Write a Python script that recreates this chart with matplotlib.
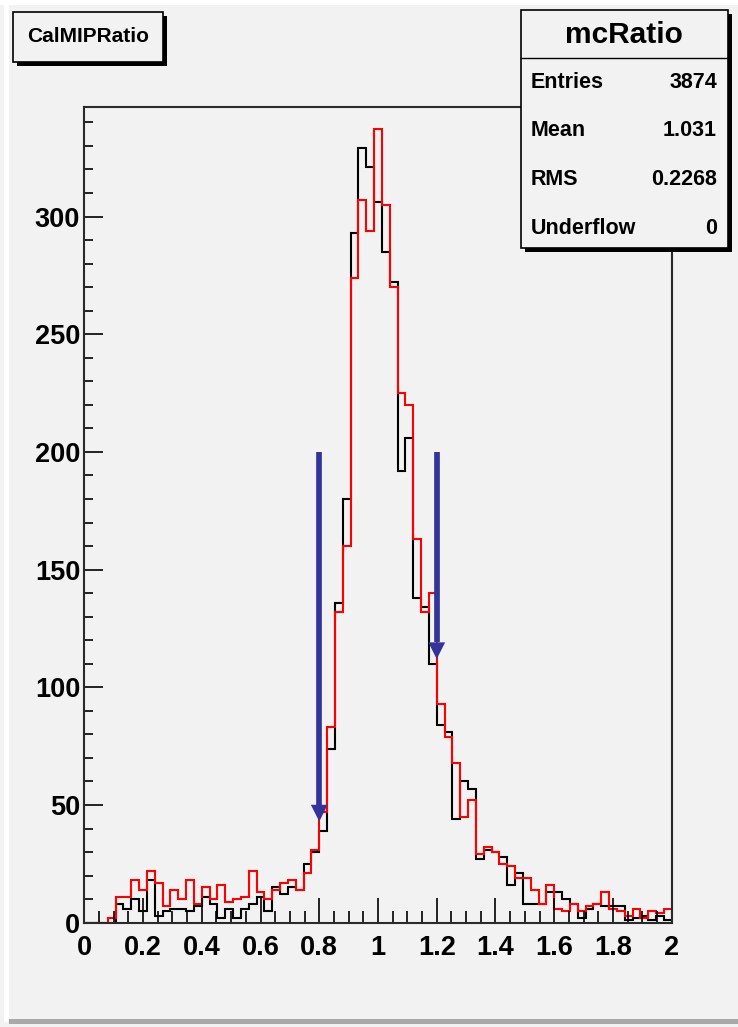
import numpy as np
import matplotlib
matplotlib.use("Agg")
import matplotlib.pyplot as plt
from matplotlib.patches import Rectangle
from matplotlib.ticker import MultipleLocator, FuncFormatter

# ---- histogram binning (75 bins over 0..2) ----
N_BINS = 75
X_MIN, X_MAX = 0.0, 2.0

# mcRatio (black)
mc_ratio = [
    0, 0, 0, 0, 8, 6, 10, 5, 18, 3,
    5, 6, 6, 5, 7, 11, 8, 2, 6, 2,
    6, 8, 11, 5, 15, 12, 15, 14, 25, 30,
    39, 74, 136, 180, 293, 329, 321, 306, 285, 272,
    192, 206, 138, 134, 110, 84, 81, 44, 60, 57,
    27, 31, 30, 28, 16, 21, 8, 8, 8, 13,
    13, 10, 8, 2, 6, 8, 7, 7, 7, 1,
    2, 3, 1, 3, 1,
]

# CalMIPRatio (red)
data_ratio = [
    0, 0, 0, 2, 11, 11, 18, 14, 22, 17,
    7, 14, 10, 18, 8, 15, 10, 16, 9, 10,
    11, 22, 13, 10, 14, 17, 18, 14, 21, 31,
    47, 83, 132, 160, 274, 307, 294, 337, 305, 270,
    225, 220, 163, 132, 140, 93, 79, 68, 45, 52,
    29, 32, 30, 25, 24, 19, 19, 14, 8, 16,
    6, 5, 8, 5, 7, 8, 13, 6, 5, 3,
    6, 2, 5, 4, 6,
]

# cut arrows: x position, start height, tip height
arrow_x = [0.8, 1.2]
arrow_top = [200, 200]
arrow_tip = [43, 112]

stat_labels = ["Entries", "Mean", "RMS", "Underflow"]
stat_values = ["3874", "1.031", "0.2268", "0"]

W, H = 738, 1027
BG = "#f2f2f2"
ARROW_COLOR = "#333399"
FONT = "Liberation Sans"

plt.rcParams["font.family"] = [FONT, "DejaVu Sans"]


def fx(px):
    return px / W


def fy(py):
    return 1 - py / H


fig = plt.figure(figsize=(W / 100, H / 100), dpi=100, facecolor=BG)

# canvas bevel
fig.add_artist(Rectangle((0, fy(5)), 1, fy(0) - fy(5), transform=fig.transFigure,
                         facecolor="white", edgecolor="none"))
fig.add_artist(Rectangle((fx(4), fy(1022)), fx(5), fy(5) - fy(1022),
                         transform=fig.transFigure, facecolor="white", edgecolor="none"))
fig.add_artist(Rectangle((fx(9), fy(1024)), 1, fy(1019) - fy(1024),
                         transform=fig.transFigure, facecolor="#a8a8a8", edgecolor="none"))

ax_l, ax_r, ax_t, ax_b = 84.3, 671.7, 107.3, 922.7
ax = fig.add_axes([fx(ax_l), fy(ax_b), fx(ax_r - ax_l), fy(ax_t) - fy(ax_b)])
ax.set_facecolor(BG)
ax.set_xlim(X_MIN, X_MAX)
ax.set_ylim(0, 346.4)

edges = np.linspace(X_MIN, X_MAX, N_BINS + 1)
ax.stairs(mc_ratio, edges, color="black", lw=1.5, baseline=0)
ax.stairs(data_ratio, edges, color="red", lw=1.5, baseline=0)

# arrow head size in pixels, turned into data units
px_x = (X_MAX - X_MIN) / (ax_r - ax_l)
px_y = 346.4 / (ax_b - ax_t)
head_w, head_h = 8.4 * px_x, 16.7 * px_y
for x, y0, y1 in zip(arrow_x, arrow_top, arrow_tip):
    ax.plot([x, x], [y0, y1 + head_h], color=ARROW_COLOR, lw=4.1, solid_capstyle="butt")
    ax.fill([x - head_w, x + head_w, x], [y1 + head_h, y1 + head_h, y1],
            color=ARROW_COLOR, lw=0)

ax.xaxis.set_major_locator(MultipleLocator(0.2))
ax.xaxis.set_minor_locator(MultipleLocator(0.05))
ax.yaxis.set_major_locator(MultipleLocator(50))
ax.yaxis.set_minor_locator(MultipleLocator(10))
ax.xaxis.set_major_formatter(FuncFormatter(lambda v, _: f"{v:g}"))

ax.tick_params(axis="x", which="major", direction="in", length=18, width=1.2, pad=9,
               labelsize=19.5, top=False)
ax.tick_params(axis="x", which="minor", direction="in", length=9, width=1.2, top=False)
ax.tick_params(axis="y", which="major", direction="in", length=13.5, width=1.2, pad=3,
               labelsize=19.5, right=False)
ax.tick_params(axis="y", which="minor", direction="in", length=6.5, width=1.2, right=False)
for lab in ax.get_xticklabels() + ax.get_yticklabels():
    lab.set_fontweight("bold")

for s in ax.spines.values():
    s.set_color("#2a2a2a")
    s.set_linewidth(1.5)


def box(x0, y0, x1, y1, shadow=4):
    fig.add_artist(Rectangle((fx(x0 + shadow), fy(y1 + shadow)), fx(x1 - x0), fy(y0) - fy(y1),
                             transform=fig.transFigure, facecolor="black", edgecolor="none"))
    fig.add_artist(Rectangle((fx(x0), fy(y1)), fx(x1 - x0), fy(y0) - fy(y1),
                             transform=fig.transFigure, facecolor=BG, edgecolor="black", lw=1.2))


# title box
box(13, 12, 163, 62)
fig.text(fx(88), fy(37), "CalMIPRatio", ha="center", va="center",
         fontsize=15, fontweight="bold")

# stats box
box(521, 10, 728, 248)
fig.add_artist(plt.Line2D([fx(521), fx(728)], [fy(58), fy(58)], transform=fig.transFigure,
                          color="black", lw=1.0))
fig.text(fx(624), fy(35), "mcRatio", ha="center", va="center", fontsize=21.5, fontweight="bold")
for i, (lab, val) in enumerate(zip(stat_labels, stat_values)):
    yy = 82 + i * 48.7
    fig.text(fx(531), fy(yy), lab, ha="left", va="center", fontsize=15.5, fontweight="bold")
    fig.text(fx(717), fy(yy), val, ha="right", va="center", fontsize=15.5, fontweight="bold")

fig.savefig("out.png", dpi=100, facecolor=BG)
